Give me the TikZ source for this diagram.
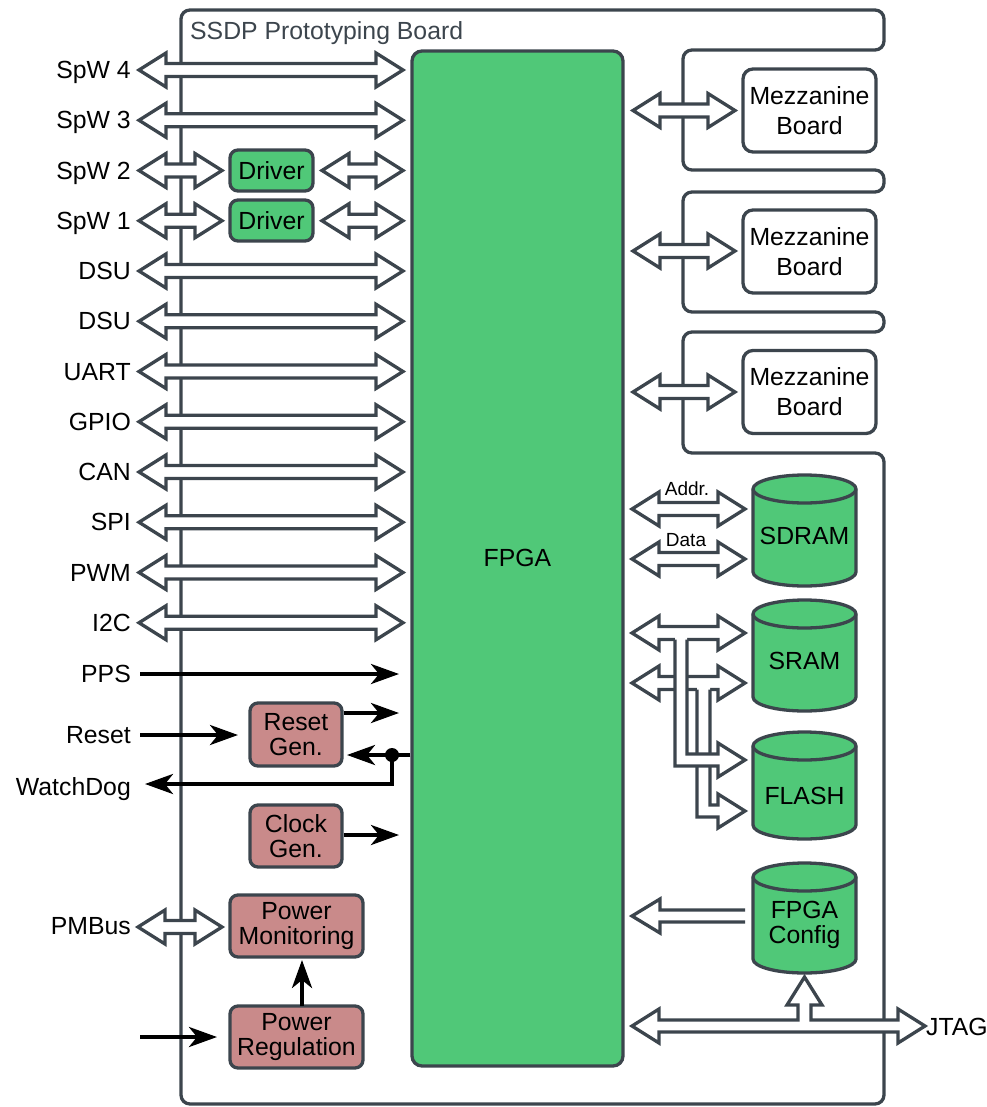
\documentclass[tikz,border=0pt]{standalone}
\usepackage{fontspec}
\setmainfont{Liberation Sans}
\usetikzlibrary{arrows.meta}
\definecolor{dk}{RGB}{60,69,77}
\definecolor{grn}{RGB}{80,200,120}
\definecolor{pnk}{RGB}{201,138,138}
\newcommand\fnt{\fontsize{24.8}{25}\selectfont}
\newcommand\smallfnt{\fontsize{19}{20}\selectfont}
% double block arrow: x1, x2, y
\newcommand\DArr[3]{\filldraw[dbl] (#1,#3) -- ({#1+27},{#3-17}) -- ({#1+27},{#3-6.5}) -- ({#2-27},{#3-6.5}) -- ({#2-27},{#3-17}) -- (#2,#3) -- ({#2-27},{#3+17}) -- ({#2-27},{#3+6.5}) -- ({#1+27},{#3+6.5}) -- ({#1+27},{#3+17}) -- cycle;}
% cylinder: top ellipse centre y, bottom ellipse centre y
\newcommand\Cyl[2]{%
  \filldraw[cyl] (753,#1) -- (753,#2) arc[start angle=180,end angle=360,x radius=51.5pt,y radius=14pt] -- (856,#1) arc[start angle=0,end angle=180,x radius=51.5pt,y radius=14pt] -- cycle;
  \draw[cyl] (753,#1) arc[start angle=180,end angle=360,x radius=51.5pt,y radius=14pt];}
\tikzset{
  ln/.style={draw=dk, line width=3.3pt},
  dbl/.style={fill=white, draw=dk, line width=3.3pt, line join=miter},
  cyl/.style={fill=grn, draw=dk, line width=3.3pt},
  lbl/.style={anchor=base east, inner sep=0pt, font=\fnt, text=black},
  gbox/.style={fill=grn, draw=dk, line width=3.3pt, rounded corners=8pt, inner sep=0pt, font=\fnt, align=center},
  pbox/.style={fill=pnk, draw=dk, line width=3.3pt, rounded corners=8pt, inner sep=0pt, font=\fnt, align=center},
  wbox/.style={fill=white, draw=dk, line width=3.3pt, rounded corners=10pt, inner sep=0pt, font=\fontsize{24.8}{30}\selectfont, align=center, minimum width=133pt, minimum height=83pt},
  ctext/.style={inner sep=0pt, font=\fnt, align=center, text=black},
  blk/.style={line width=4pt, draw=black, -{Stealth[length=28pt,width=20pt,inset=8pt]}},
}
\begin{document}
\begin{tikzpicture}[x=1pt,y=-1pt]
\useasboundingbox (0,0) rectangle (986,1107);

% board outline
\draw[ln, rounded corners=9pt] (500,10) -- (884,10) -- (884,50) -- (683,50) -- (683,170) -- (884,170) -- (884,192) -- (683,192) -- (683,312) -- (884,312) -- (884,332) -- (683,332) -- (683,453) -- (884,453) -- (884,1104) -- (181,1104) -- (181,10) -- cycle;
\node[anchor=base west, inner sep=0pt, font=\fnt, text=dk] (title) at (190,40) {SSDP Prototyping Board};

% FPGA
\node[fill=grn, draw=dk, line width=3.3pt, rounded corners=10pt, minimum width=211pt, minimum height=1015pt, inner sep=0pt] (fpga) at (517.5,558.5) {};
\node[ctext] (fpgalbl) at (517.5,558) {FPGA};

% left labels
\foreach \t/\y [count=\i] in {SpW 4/70, SpW 3/120.25, SpW 2/170.5, SpW 1/220.75, DSU/271, DSU/321.25, UART/371.5, GPIO/421.75, CAN/472, SPI/522.25, PWM/572.5, I2C/622.75, PPS/674, Reset/735, WatchDog/786.5, PMBus/926}
  {\node[lbl] (l\i) at (131,{\y+8.7}) {\t};}

% long double arrows
\foreach \y in {70, 120.25, 271, 321.25, 371.5, 421.75, 472, 522.25, 572.5, 622.75}
  {\DArr{139}{403}{\y}}

% SpW drivers
\DArr{139}{222}{170.5}
\DArr{322}{403}{170.5}
\DArr{139}{222}{220.75}
\DArr{322}{403}{220.75}
\node[gbox, minimum width=83pt, minimum height=41pt] (drv2) at (271.5,170.5) {Driver};
\node[gbox, minimum width=83pt, minimum height=41pt] (drv1) at (271.5,220.5) {Driver};

% mezzanine
\DArr{633}{735}{110.5}
\DArr{633}{735}{251}
\DArr{633}{735}{392}
\node[wbox] (mez1) at (809.5,110.5) {Mezzanine\\Board};
\node[wbox] (mez2) at (809.5,251.5) {Mezzanine\\Board};
\node[wbox] (mez3) at (809.5,392) {Mezzanine\\Board};

% SDRAM
\DArr{632}{745}{509}
\DArr{632}{745}{559}
\node[inner sep=0pt, font=\smallfnt] (addr) at (687,489) {Addr.};
\node[inner sep=0pt, font=\smallfnt] (data) at (686,540) {Data};
\Cyl{489}{572}
\node[ctext] (sdram) at (804.5,536) {SDRAM};

% SRAM / FLASH
\DArr{632}{745}{633}
\DArr{632}{745}{683}
% channel 2 (second bus to lower flash port)
\fill[white] (697,684) -- (697,817) -- (718,817) -- (718,828) -- (745,811) -- (718,794) -- (718,805) -- (710,805) -- (710,684) -- cycle;
\draw[ln, line join=miter] (697,689.5) -- (697,817) -- (718,817) -- (718,828) -- (745,811) -- (718,794) -- (718,805) -- (710,805) -- (710,689.5);
% channel 1 (first bus to upper flash port)
\fill[white] (675,634) -- (675,766) -- (718,766) -- (718,777) -- (745,760) -- (718,743) -- (718,754) -- (687,754) -- (687,634) -- cycle;
\draw[ln, line join=miter] (675,639.5) -- (675,766) -- (718,766) -- (718,777) -- (745,760) -- (718,743) -- (718,754) -- (687,754) -- (687,639.5);
\Cyl{614}{697}
\node[ctext] (sram) at (804.5,661) {SRAM};
\Cyl{746}{825}
\node[ctext] (flash) at (804.5,796) {FLASH};

% FPGA config
\Cyl{877}{959}
\node[ctext] (cfg) at (804.5,924.5) {FPGA\\Config};
\filldraw[dbl] (745,910) -- (660,910) -- (660,899) -- (632,916) -- (660,933) -- (660,922) -- (745,922);

% JTAG
\filldraw[dbl] (632,1026) -- (659,1009) -- (659,1020) -- (798,1020) -- (798,1005) -- (787,1005) -- (804.5,977) -- (822,1005) -- (811,1005) -- (811,1020) -- (898,1020) -- (898,1009) -- (925,1026) -- (898,1043) -- (898,1032) -- (659,1032) -- (659,1043) -- cycle;
\node[anchor=west, inner sep=0pt, font=\fnt] (jtag) at (926,1027) {JTAG};

% reset / clock
\node[pbox, minimum width=92pt, minimum height=63pt] (rst) at (296,734.5) {Reset\\Gen.};
\node[pbox, minimum width=92pt, minimum height=62pt] (clk) at (296,836) {Clock\\Gen.};
\draw[blk] (140,674) -- (399,674);
\draw[blk] (140,735) -- (238,735);
\draw[blk] (rst.east |- 0,713) -- (399,713);
\draw[blk] (fpga.west |- 0,755) -- (347,755);
\draw[blk] (392,755) -- (392,784) -- (145,784);
\fill (392,755) circle[radius=7pt];
\draw[blk] (clk.east |- 0,835) -- (399,835);

% power
\node[pbox, minimum width=133pt, minimum height=62pt] (pmon) at (296.5,926) {Power\\Monitoring};
\node[pbox, minimum width=133pt, minimum height=62pt] (preg) at (296.5,1037) {Power\\Regulation};
\DArr{138}{222}{927}
\draw[blk] (302,1006) -- (302,960);
\draw[blk] (140,1037) -- (217,1037);
\end{tikzpicture}
\end{document}
